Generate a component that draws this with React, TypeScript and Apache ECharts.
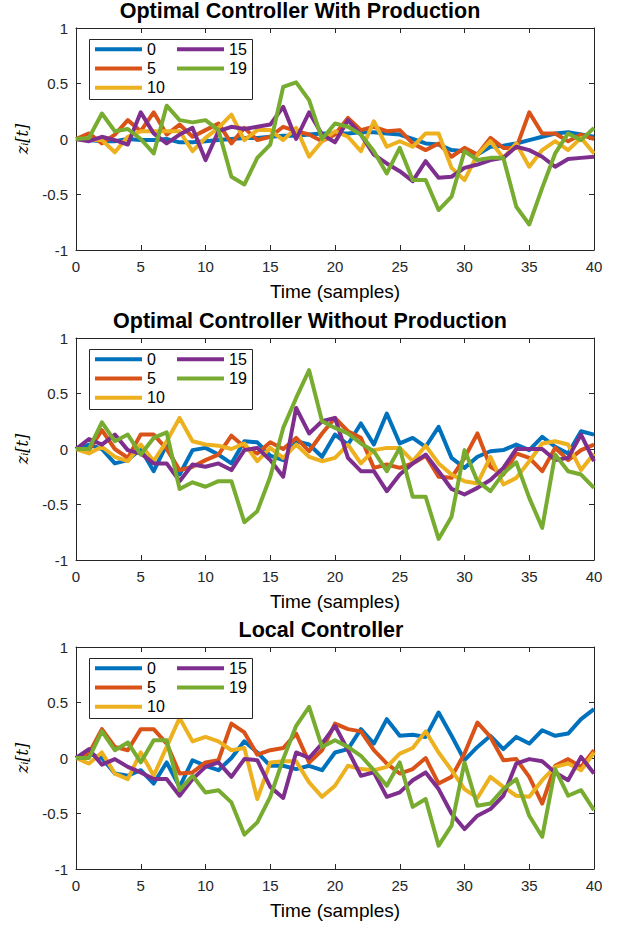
import React, { useEffect, useRef } from "react";
import * as echarts from "echarts";

const seriesNames = ["0", "5", "10", "15", "19"];
const colors = ["#0072BD", "#D95319", "#EDB120", "#7E2F8E", "#77AC30"];
const titles = [
  "Optimal Controller With Production",
  "Optimal Controller Without Production",
  "Local Controller",
];
const xTicks = [0, 5, 10, 15, 20, 25, 30, 35, 40];
const yTicks = [-1, -0.5, 0, 0.5, 1];

// Plot 1: Optimal Controller With Production
const p1_0 = [0, -0.01, -0.02, -0.02, 0, -0.01, -0.01, 0, -0.03, -0.03, -0.02, -0.01, 0, 0.01, 0.01, 0.02, 0.03, 0.03, 0.04, 0.05, 0.05, 0.05, 0.06, 0.06, 0.05, 0.04, 0.0, -0.04, -0.05, -0.1, -0.11, -0.14, -0.07, -0.06, -0.04, -0.01, 0.02, 0.05, 0.06, 0.04, 0.02];
const p1_5 = [0, 0.05, -0.04, 0.04, 0.17, 0.07, 0.24, 0.04, 0.13, 0.02, 0.08, 0.14, -0.04, 0.1, -0.01, 0.02, 0.11, 0.07, 0.04, -0.02, 0.04, 0.19, 0.08, 0.11, 0.07, 0.08, -0.04, -0.1, -0.04, -0.16, -0.08, -0.14, 0.01, -0.08, -0.08, 0.24, 0.05, 0.05, -0.02, 0.04, 0.0];
const p1_10 = [0, -0.01, -0.01, -0.12, 0.02, 0.07, 0.07, 0.07, 0.07, -0.11, 0.01, 0.1, 0.22, -0.01, 0.08, 0.08, -0.01, 0.1, -0.16, -0.02, 0.07, 0.02, -0.11, 0.16, -0.07, -0.02, -0.07, 0.05, 0.05, -0.26, -0.37, -0.14, -0.02, -0.17, -0.04, -0.25, -0.1, -0.02, -0.1, 0.01, -0.13];
const p1_15 = [0, -0.02, 0.02, -0.01, -0.05, 0.24, 0.05, -0.04, 0.04, 0.1, -0.19, 0.07, 0.11, 0.09, 0.11, 0.13, 0.29, 0.0, 0.24, 0.04, -0.03, 0.17, 0.04, -0.14, -0.22, -0.29, -0.38, -0.2, -0.35, -0.34, -0.26, -0.23, -0.19, -0.17, -0.07, -0.1, -0.16, -0.25, -0.18, -0.17, -0.16];
const p1_19 = [0, 0.01, 0.23, 0.07, 0.09, 0.0, -0.13, 0.3, 0.17, 0.15, 0.17, 0.08, -0.34, -0.41, -0.17, -0.05, 0.47, 0.51, 0.35, 0.0, 0.14, 0.11, 0.04, -0.11, -0.31, -0.08, -0.37, -0.37, -0.64, -0.52, -0.11, -0.19, -0.17, -0.17, -0.61, -0.77, -0.44, -0.13, 0.05, -0.01, 0.1];

// Plot 2: Optimal Controller Without Production
const p2_0 = [0, 0.04, 0.0, -0.13, -0.1, 0.0, -0.2, 0.04, -0.23, -0.01, 0.01, -0.05, -0.13, 0.07, 0.06, -0.06, -0.1, 0.07, 0.04, -0.07, 0.13, 0.04, 0.23, 0.04, 0.32, 0.05, 0.1, 0.02, 0.2, -0.08, -0.17, -0.07, -0.02, -0.01, 0.04, -0.01, 0.11, 0.02, -0.04, 0.16, 0.13];
const p2_5 = [0, -0.01, 0.17, 0.0, -0.08, 0.13, 0.13, 0.0, -0.19, -0.16, -0.1, -0.05, 0.12, 0.02, -0.04, 0.06, 0.0, 0.1, -0.02, 0.14, 0.28, 0.16, 0.1, -0.17, -0.14, -0.17, -0.13, -0.06, -0.25, -0.26, -0.08, 0.14, -0.16, -0.23, -0.04, -0.08, -0.2, 0.01, -0.1, -0.01, 0.04];
const p2_10 = [0, -0.04, 0.02, -0.07, -0.11, 0.04, -0.11, 0.07, 0.28, 0.07, 0.04, 0.03, 0.0, 0.05, -0.11, 0.01, -0.08, 0.04, -0.07, -0.11, -0.08, 0.04, -0.13, -0.01, 0.01, 0.01, -0.11, 0.03, -0.13, -0.23, -0.29, -0.31, -0.07, -0.32, -0.26, -0.11, 0.05, 0.07, 0.04, -0.19, -0.04];
const p2_15 = [0, 0.09, 0.04, 0.13, -0.01, -0.04, -0.13, -0.13, -0.29, -0.14, -0.16, -0.13, -0.19, -0.01, 0.01, -0.1, -0.25, 0.37, 0.14, 0.25, 0.28, -0.08, -0.2, -0.2, -0.38, -0.23, -0.13, -0.05, -0.2, -0.36, -0.41, -0.35, -0.28, -0.17, 0.0, 0.0, 0.0, -0.1, -0.08, 0.13, -0.11];
const p2_19 = [0, 0.0, 0.24, 0.07, 0.13, -0.05, 0.1, 0.15, -0.36, -0.3, -0.34, -0.29, -0.29, -0.66, -0.56, -0.25, 0.19, 0.46, 0.71, 0.25, 0.19, 0.14, 0.05, -0.02, -0.2, 0.01, -0.43, -0.43, -0.81, -0.61, -0.01, -0.29, -0.38, -0.22, -0.12, -0.44, -0.71, -0.05, -0.2, -0.23, -0.35];

// Plot 3: Local Controller
const p3_0 = [0, 0.04, 0.0, -0.14, -0.16, -0.11, -0.23, -0.04, -0.26, -0.02, -0.07, -0.11, 0.0, 0.15, 0.05, -0.07, -0.07, -0.1, -0.07, -0.11, 0.05, 0.08, 0.26, 0.13, 0.35, 0.2, 0.21, 0.19, 0.41, 0.2, -0.02, 0.1, 0.2, 0.08, 0.19, 0.13, 0.25, 0.2, 0.22, 0.35, 0.44];
const p3_5 = [0, 0.04, 0.26, 0.1, 0.07, 0.26, 0.26, 0.13, -0.14, -0.13, -0.04, -0.02, 0.31, 0.23, 0.03, 0.07, 0.09, 0.22, -0.04, 0.07, 0.31, 0.26, 0.24, 0.07, -0.05, -0.14, -0.1, 0.0, -0.23, -0.17, 0.04, 0.32, 0.19, -0.02, -0.01, -0.17, -0.41, -0.07, -0.01, -0.08, 0.07];
const p3_10 = [0, -0.05, 0.05, -0.14, -0.19, 0.05, -0.16, 0.1, 0.36, 0.15, 0.19, 0.15, 0.07, 0.09, -0.37, -0.04, -0.03, -0.03, -0.22, -0.35, -0.25, -0.07, -0.1, -0.11, -0.08, 0.04, 0.09, 0.24, 0.05, -0.11, -0.28, -0.36, -0.17, -0.26, -0.34, -0.35, -0.2, -0.08, -0.05, -0.11, 0.05];
const p3_15 = [0, 0.08, -0.06, -0.01, -0.08, -0.13, -0.19, -0.19, -0.34, -0.19, -0.08, -0.04, -0.17, -0.01, -0.02, -0.26, -0.36, 0.05, 0.0, 0.13, 0.29, 0.07, -0.16, -0.13, -0.35, -0.31, -0.2, -0.13, -0.28, -0.5, -0.64, -0.52, -0.46, -0.34, -0.05, -0.01, -0.03, -0.13, -0.2, 0.01, -0.14];
const p3_19 = [0, 0.0, 0.24, 0.07, 0.14, -0.04, 0.16, 0.16, -0.29, -0.16, -0.31, -0.29, -0.4, -0.69, -0.58, -0.35, -0.01, 0.29, 0.46, 0.1, 0.16, 0.1, 0.02, -0.11, -0.25, -0.04, -0.44, -0.37, -0.79, -0.61, -0.04, -0.43, -0.41, -0.28, -0.19, -0.52, -0.71, -0.1, -0.34, -0.29, -0.47];

const plots = [
  [p1_0, p1_5, p1_10, p1_15, p1_19],
  [p2_0, p2_5, p2_10, p2_15, p2_19],
  [p3_0, p3_5, p3_10, p3_15, p3_19],
];

const W = 620;
const H = 926;
const gridLeft = 76;
const gridRight = 26;
const gridTops = [28, 338, 647];
const gridH = 222;
const titleCx = [300, 310, 321];
const axisColor = "#262626";
const FONT = "'Liberation Sans', Arial, Helvetica, sans-serif";

export default function App() {
  const ref = useRef<HTMLDivElement>(null);

  useEffect(() => {
    if (!ref.current) return;
    const chart = echarts.init(ref.current, null, { renderer: "svg" });

    const grid: any[] = [];
    const xAxis: any[] = [];
    const yAxis: any[] = [];
    const series: any[] = [];
    const legend: any[] = [];
    const graphic: any[] = [];

    gridTops.forEach((top, g) => {
      grid.push({ left: gridLeft, right: gridRight, top, height: gridH, containLabel: false });
      const baseX = {
        type: "value",
        gridIndex: g,
        min: 0,
        max: 40,
        interval: 5,
        axisLine: { show: true, onZero: false, lineStyle: { color: axisColor, width: 1 } },
        axisTick: { show: true, inside: true, length: 5, lineStyle: { color: axisColor } },
        splitLine: { show: false },
      };
      xAxis.push({
        ...baseX,
        position: "bottom",
        name: "Time (samples)",
        nameLocation: "middle",
        nameGap: 32,
        nameTextStyle: { fontSize: 19, color: "#000", fontFamily: FONT },
        axisLabel: { show: true, margin: 9, fontSize: 15, color: axisColor, fontFamily: FONT },
      });
      xAxis.push({ ...baseX, position: "top", axisLabel: { show: false } });
      const baseY = {
        type: "value",
        gridIndex: g,
        min: -1,
        max: 1,
        interval: 0.5,
        axisLine: { show: true, onZero: false, lineStyle: { color: axisColor, width: 1 } },
        axisTick: { show: true, inside: true, length: 5, lineStyle: { color: axisColor } },
        splitLine: { show: false },
      };
      yAxis.push({
        ...baseY,
        position: "left",
        name: "zᵢ[t]",
        nameLocation: "middle",
        nameRotate: 90,
        nameGap: 46,
        nameTextStyle: { fontSize: 16, fontStyle: "italic", color: "#000", fontFamily: "'DejaVu Serif', serif" },
        axisLabel: { show: true, margin: 8, fontSize: 15, color: axisColor, fontFamily: FONT },
      });
      yAxis.push({ ...baseY, position: "right", axisLabel: { show: false } });

      plots[g].forEach((vals, k) => {
        series.push({
          type: "line",
          name: seriesNames[k],
          xAxisIndex: g * 2,
          yAxisIndex: g * 2,
          data: vals.map((v, i) => [i, v]),
          showSymbol: false,
          symbol: "none",
          lineStyle: { width: 4, color: colors[k], join: "round" },
          itemStyle: { color: colors[k] },
          z: 2 + k * 0.01,
        });
      });

      const legCommon = {
        orient: "vertical",
        top: top + 11.5,
        icon: "rect",
        itemWidth: 47,
        itemHeight: 4,
        itemGap: 0,
        padding: 0,
        selectedMode: false,
        z: 10,
        textStyle: { fontSize: 16, color: "#000", fontFamily: FONT, lineHeight: 19.3 },
      };
      legend.push({ ...legCommon, left: 95, data: seriesNames.slice(0, 3) });
      legend.push({ ...legCommon, left: 177, data: seriesNames.slice(3) });

      graphic.push({
        type: "rect",
        shape: { x: 89.5, y: top + 11.5, width: 163, height: 60 },
        style: { fill: "#fff", stroke: axisColor, lineWidth: 1 },
        z: 5,
      });
      graphic.push({
        type: "text",
        x: titleCx[g],
        y: top - 17,
        style: {
          text: titles[g],
          fill: "#000",
          font: `bold 21.5px ${FONT}`,
          align: "center",
          verticalAlign: "middle",
          textAlign: "center",
          textVerticalAlign: "middle",
        },
        z: 10,
      });
    });

    chart.setOption({
      animation: false,
      backgroundColor: "#fff",
      grid,
      xAxis,
      yAxis,
      series,
      legend,
      graphic,
    });

    return () => chart.dispose();
  }, []);

  return (
    <div
      ref={ref}
      style={{ position: "fixed", left: 0, top: 0, width: W, height: H, background: "#fff" }}
    />
  );
}
